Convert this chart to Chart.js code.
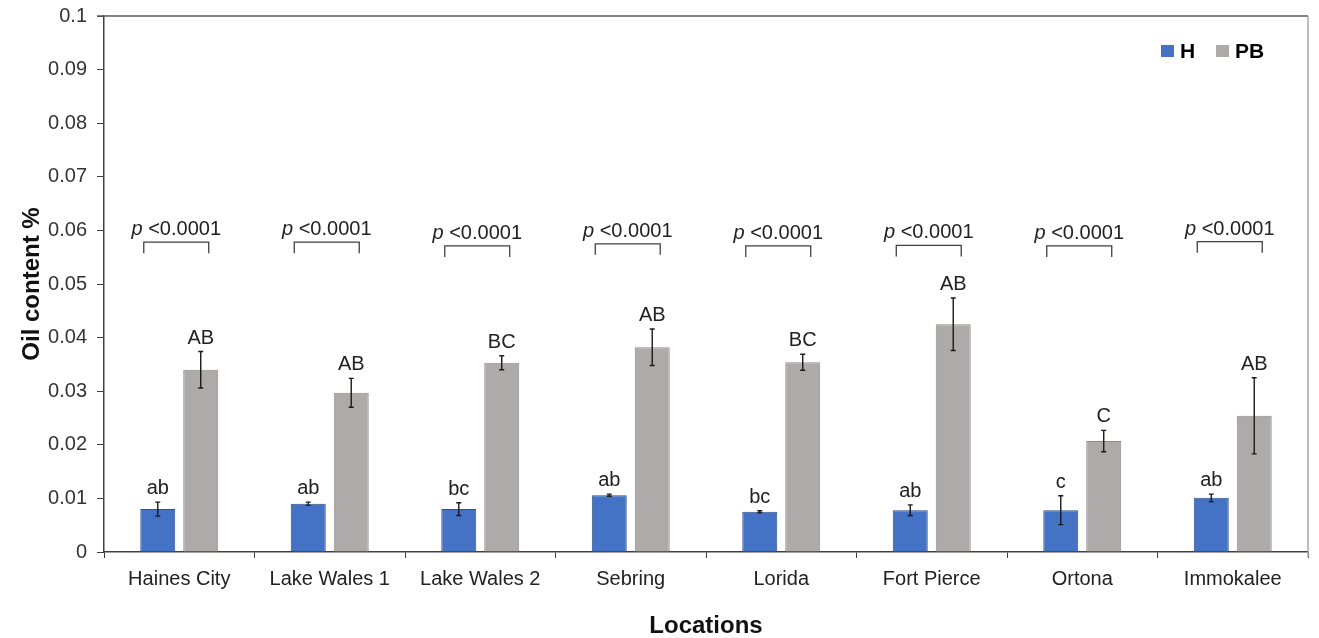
<!DOCTYPE html>
<html>
<head>
<meta charset="utf-8">
<script src="https://cdn.jsdelivr.net/npm/chart.js@4"></script>
<style>
  html, body { margin: 0; padding: 0; background: #fff; }
  #wrap { width: 1319px; height: 638px; position: relative; }
</style>
</head>
<body>
<div id="wrap"><canvas id="oilChart"></canvas></div>
<script>
const locations = ['Haines City', 'Lake Wales 1', 'Lake Wales 2', 'Sebring', 'Lorida', 'Fort Pierce', 'Ortona', 'Immokalee'];
const hMeans = [0.0080, 0.0090, 0.0080, 0.0106, 0.0075, 0.0078, 0.0078, 0.0101];
const hErrors = [0.0013, 0.0003, 0.0012, 0.0002, 0.0002, 0.0010, 0.0027, 0.0007];
const pbMeans = [0.0340, 0.0297, 0.0353, 0.0382, 0.0354, 0.0425, 0.0207, 0.0254];
const pbErrors = [0.0034, 0.0027, 0.0013, 0.0034, 0.0015, 0.0049, 0.0020, 0.0071];
const hLetters = ['ab', 'ab', 'bc', 'ab', 'bc', 'ab', 'c', 'ab'];
const pbLetters = ['AB', 'AB', 'BC', 'AB', 'BC', 'AB', 'C', 'AB'];
const pValues = ['<0.0001', '<0.0001', '<0.0001', '<0.0001', '<0.0001', '<0.0001', '<0.0001', '<0.0001'];
const bracketLevels = [0.0578, 0.0578, 0.0571, 0.0575, 0.0571, 0.0572, 0.0571, 0.0579];
const yTicks = [0, 0.01, 0.02, 0.03, 0.04, 0.05, 0.06, 0.07, 0.08, 0.09, 0.1];

const FONT = 'Liberation Sans, Arial, sans-serif';

// error bars, letters, p-value brackets, frame and legend
const extras = {
    id: 'extras',
    afterDatasetsDraw(chart) {
        const ctx = chart.ctx;
        const y = chart.scales.y;
        const area = chart.chartArea;
        const errs = [hErrors, pbErrors];
        const letters = [hLetters, pbLetters];

        ctx.save();
        // frame: top and right edges
        ctx.strokeStyle = '#595959';
        ctx.lineWidth = 1.5;
        ctx.beginPath();
        ctx.moveTo(area.left - 7, area.top);
        ctx.lineTo(area.right, area.top);
        ctx.stroke();
        ctx.strokeStyle = '#a6a6a6';
        ctx.beginPath();
        ctx.moveTo(area.right, area.top);
        ctx.lineTo(area.right, area.bottom + 5);
        ctx.stroke();

        chart.data.datasets.forEach((ds, di) => {
            const meta = chart.getDatasetMeta(di);
            meta.data.forEach((bar, i) => {
                const v = ds.data[i];
                const e = errs[di][i];
                const yTop = y.getPixelForValue(v + e);
                const yBot = y.getPixelForValue(v - e);
                ctx.strokeStyle = '#1a1a1a';
                ctx.lineWidth = 1.4;
                ctx.beginPath();
                ctx.moveTo(bar.x, yTop);
                ctx.lineTo(bar.x, yBot);
                ctx.moveTo(bar.x - 2.5, yTop);
                ctx.lineTo(bar.x + 2.5, yTop);
                ctx.moveTo(bar.x - 2.5, yBot);
                ctx.lineTo(bar.x + 2.5, yBot);
                ctx.stroke();

                ctx.fillStyle = '#222';
                ctx.font = '20px ' + FONT;
                ctx.textAlign = 'center';
                ctx.textBaseline = 'alphabetic';
                ctx.fillText(letters[di][i], bar.x, yTop - 8);
            });
        });

        // p-value brackets
        const hMeta = chart.getDatasetMeta(0);
        const pbMeta = chart.getDatasetMeta(1);
        locations.forEach((loc, i) => {
            const x1 = hMeta.data[i].x - 14;
            const x2 = pbMeta.data[i].x + 8;
            const by = y.getPixelForValue(bracketLevels[i]);
            ctx.strokeStyle = '#404040';
            ctx.lineWidth = 1.3;
            ctx.beginPath();
            ctx.moveTo(x1, by + 11);
            ctx.lineTo(x1, by);
            ctx.lineTo(x2, by);
            ctx.lineTo(x2, by + 11);
            ctx.stroke();

            const cx = (x1 + x2) / 2;
            ctx.font = 'italic 20px ' + FONT;
            const pw = ctx.measureText('p ').width;
            ctx.font = '20px ' + FONT;
            const rw = ctx.measureText(pValues[i]).width;
            const start = cx - (pw + rw) / 2;
            ctx.fillStyle = '#222';
            ctx.textAlign = 'left';
            ctx.textBaseline = 'alphabetic';
            ctx.font = 'italic 20px ' + FONT;
            ctx.fillText('p ', start, by - 7);
            ctx.font = '20px ' + FONT;
            ctx.fillText(pValues[i], start + pw, by - 7);
        });

        // legend
        let lx = 1161;
        const ly = 51;
        chart.data.datasets.forEach((ds) => {
            ctx.fillStyle = ds.backgroundColor;
            ctx.fillRect(lx, ly - 6, 13, 12);
            ctx.fillStyle = '#000';
            ctx.font = 'bold 21px ' + FONT;
            ctx.textAlign = 'left';
            ctx.textBaseline = 'middle';
            ctx.fillText(ds.label, lx + 19, ly + 1);
            lx += 55;
        });
        ctx.restore();
    }
};

new Chart(document.getElementById('oilChart'), {
    type: 'bar',
    data: {
        labels: locations,
        datasets: [{
            label: 'H',
            data: hMeans,
            backgroundColor: '#4472C4',
            borderColor: '#2F4F8A',
            borderWidth: 1,
            categoryPercentage: 0.571,
            barPercentage: 0.814
        }, {
            label: 'PB',
            data: pbMeans,
            backgroundColor: '#AEAAAA',
            borderColor: '#8E8A8A',
            borderWidth: 1,
            categoryPercentage: 0.571,
            barPercentage: 0.814
        }]
    },
    options: {
        responsive: true,
        maintainAspectRatio: false,
        animation: false,
        layout: { padding: { top: 16, right: 11, left: 0, bottom: 0 } },
        plugins: {
            legend: { display: false },
            tooltip: { enabled: false }
        },
        scales: {
            x: {
                grid: { offset: true, drawOnChartArea: false, tickLength: 6, color: '#404040', lineWidth: 1 },
                border: { color: '#404040', width: 1.5 },
                ticks: { color: '#222', font: { family: FONT, size: 20 }, padding: 9, maxRotation: 0 },
                title: { display: true, text: 'Locations', color: '#111', font: { family: FONT, size: 24, weight: 'bold' }, padding: { top: 0, bottom: -3 } },
                afterFit(scale) { scale.height = 86; }
            },
            y: {
                min: 0,
                max: 0.1,
                afterBuildTicks(scale) { scale.ticks = yTicks.map(v => ({ value: v })); },
                grid: { drawOnChartArea: false, tickLength: 7, color: '#404040', lineWidth: 1 },
                border: { color: '#404040', width: 1.5 },
                ticks: {
                    color: '#333',
                    font: { family: FONT, size: 20 },
                    padding: 10,
                    callback: v => String(+v.toFixed(2))
                },
                title: { display: true, text: 'Oil content %', color: '#111', font: { family: FONT, size: 24, weight: 'bold' }, padding: { top: 18, bottom: 0 } },
                afterFit(scale) {
                    scale.width = 104;
                    scale.paddingTop = 0;
                    scale.paddingBottom = 0;
                }
            }
        }
    },
    plugins: [extras]
});
</script>
</body>
</html>
